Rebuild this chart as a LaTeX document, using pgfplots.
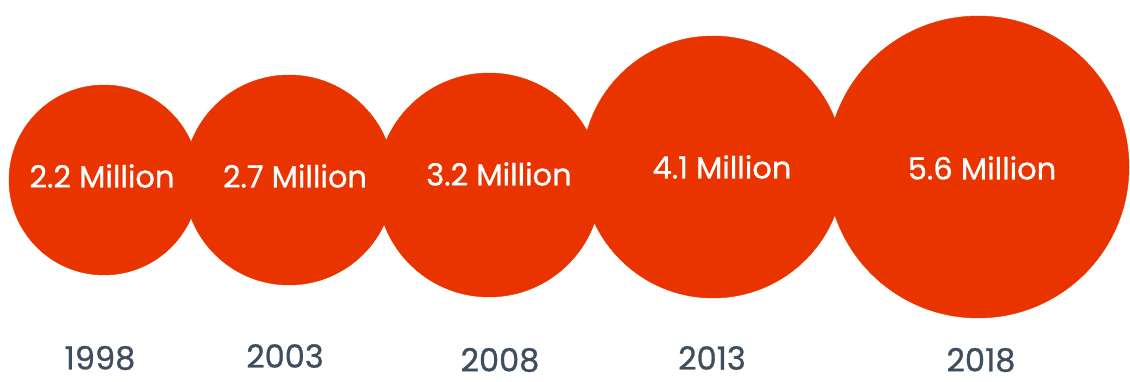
\documentclass[border=0pt]{standalone}
\usepackage{pgfplots}
\pgfplotsset{compat=1.18}
\usepackage{pgfplotstable}
\usepackage{fontspec}
\setmainfont{Poppins}
\newfontfamily\medfont{Poppins}[FakeBold=0.8]
\definecolor{orng}{HTML}{E93400}
\definecolor{yeartxt}{HTML}{3E4E5E}

\pgfplotstableread[col sep=comma]{
x,y,r
104,202,95
289,202,105
489,197,112
713,215,131
978,215,151
}\circles

\pgfplotstableread[col sep=comma]{
x,y,label
102,206,2.2 Million
295,206,2.7 Million
499,208,3.2 Million
722,215,4.1 Million
982,214,5.6 Million
}\labels

\pgfplotstableread[col sep=comma]{
x,y,label
100,24,1998
285,26,2003
500,22,2008
712,24,2013
981,22,2018
}\years

\begin{document}
\begin{tikzpicture}
\begin{axis}[
  width=1130pt, height=382pt, scale only axis,
  xmin=0, xmax=1130, ymin=0, ymax=382,
  axis lines=none, ticks=none,
  clip=false,
]
\path (rel axis cs:0,0) rectangle (rel axis cs:1,1);
\addplot[scatter, only marks, mark=*,
  scatter/use mapped color={draw=orng, fill=orng},
  visualization depends on={\thisrow{r} \as \rad},
  scatter/@pre marker code/.append style={/tikz/mark size=\rad}]
  table[x=x, y=y] {\circles};
\addplot[only marks, mark=none,
  point meta=explicit symbolic,
  nodes near coords,
  nodes near coords align={center},
  every node near coord/.append style={text=white, font=\medfont\fontsize{30.5}{32}\selectfont, anchor=center, inner sep=0pt}]
  table[x=x, y=y, meta=label] {\labels};
\addplot[only marks, mark=none,
  point meta=explicit symbolic,
  nodes near coords,
  nodes near coords align={center},
  every node near coord/.append style={text=yeartxt, font=\medfont\fontsize{32}{34}\selectfont, anchor=center, inner sep=0pt}]
  table[x=x, y=y, meta=label] {\years};
\end{axis}
\end{tikzpicture}
\end{document}
